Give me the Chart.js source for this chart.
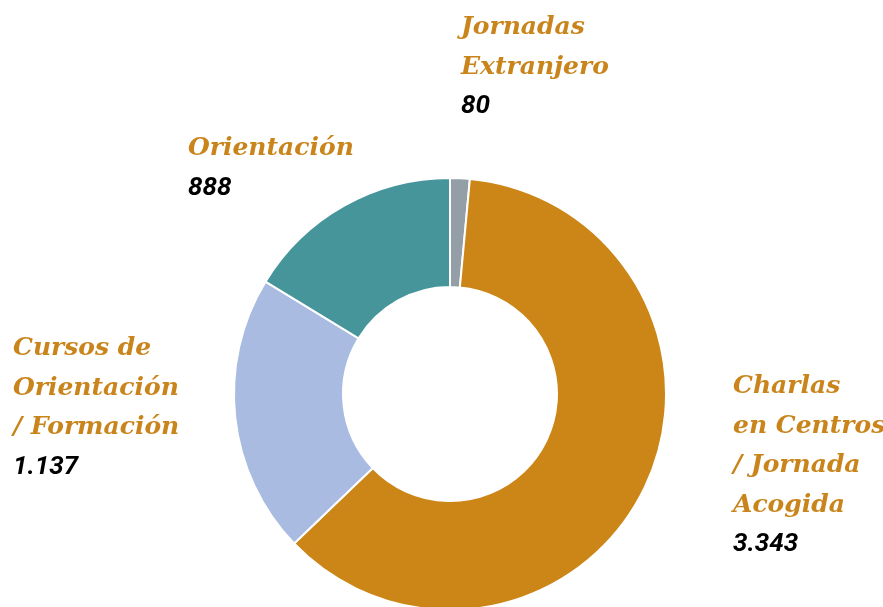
<!DOCTYPE html>
<html>
<head>
<meta charset="utf-8">
<script src="https://cdn.jsdelivr.net/npm/chart.js@4.4.0/dist/chart.umd.min.js"></script>
<style>
    html, body { margin: 0; padding: 0; background: #ffffff; }
    #wrap { position: relative; width: 883px; height: 607px; }
</style>
</head>
<body>
<div id="wrap"><canvas id="donut"></canvas></div>
<script>
const categories = [
    ["Jornadas", "Extranjero"],
    ["Charlas", "en Centros", "/ Jornada", "Acogida"],
    ["Cursos de", "Orientación", "/ Formación"],
    ["Orientación"],
];
const values = [80, 3343, 1137, 888];
const sliceColors = ["#939ea6", "#cc8517", "#a9bbe1", "#45959b"];

// label block anchors (left edge, first baseline), relative to ring centre
const labelAnchors = [
    { dx: 11, dy: -360 },
    { dx: 283, dy: -1 },
    { dx: -437, dy: -39 },
    { dx: -262, dy: -239 },
];
const LINE_H = 39.5;
const LABEL_COLOR = "#c9851b";
const LABEL_FONT = "italic bold 25px 'DejaVu Serif'";
const VALUE_FONT = "italic bold 26px Roboto";

function formatValue(v) {
    return String(v).replace(/\B(?=(\d{3})+(?!\d))/g, ".");
}

const outsideLabels = {
    id: "outsideLabels",
    afterDraw(chart) {
        const arc = chart.getDatasetMeta(0).data[0];
        if (!arc) return;
        const cx = arc.x;
        const cy = arc.y;
        const ctx = chart.ctx;
        ctx.save();
        ctx.textAlign = "left";
        ctx.textBaseline = "alphabetic";
        categories.forEach((lines, i) => {
            const x = cx + labelAnchors[i].dx;
            let y = cy + labelAnchors[i].dy;
            ctx.font = LABEL_FONT;
            ctx.fillStyle = LABEL_COLOR;
            lines.forEach((line) => {
                ctx.fillText(line, x, y);
                y += LINE_H;
            });
            ctx.font = VALUE_FONT;
            ctx.fillStyle = "#000000";
            ctx.fillText(formatValue(values[i]), x, y);
        });
        ctx.restore();
    },
};

new Chart(document.getElementById("donut"), {
    type: "doughnut",
    data: {
        labels: categories.map((l) => l.join(" ")),
        datasets: [
            {
                data: values,
                backgroundColor: sliceColors,
                borderColor: "#ffffff",
                borderWidth: 2,
                radius: 216,
                cutout: 105,
                clip: false,
            },
        ],
    },
    options: {
        responsive: true,
        maintainAspectRatio: false,
        animation: false,
        layout: { padding: { left: 17, right: 0, top: 181, bottom: 0 } },
        plugins: {
            legend: { display: false },
            tooltip: { enabled: false },
        },
    },
    plugins: [outsideLabels],
});
</script>
</body>
</html>
